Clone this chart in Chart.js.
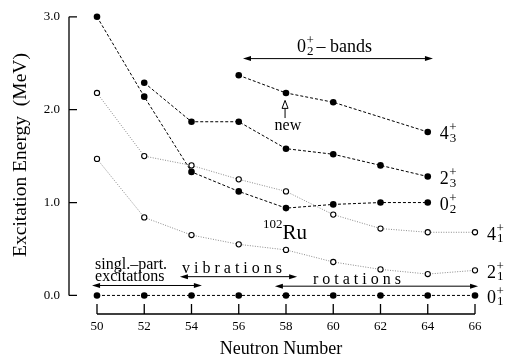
<!DOCTYPE html>
<html>
<head>
<meta charset="utf-8">
<script src="https://cdn.jsdelivr.net/npm/chart.js@4.4.1/dist/chart.umd.min.js"></script>
<style>
  html, body { margin: 0; padding: 0; background: #fff; }
</style>
</head>
<body>
<canvas id="myChart" width="506" height="358"></canvas>
<script>
// neutron numbers and level energies (MeV)
const neutrons = [50, 52, 54, 56, 58, 60, 62, 64, 66];
const energyTicks = [0, 1, 2, 3];

const e01 = [0, 0, 0, 0, 0, 0, 0, 0, 0];
const e21 = [1.47, 0.84, 0.65, 0.55, 0.49, 0.36, 0.28, 0.23, 0.27];
const e41 = [2.18, 1.50, 1.40, 1.25, 1.12, 0.87, 0.72, 0.68, 0.68];
const e02 = [3.00, 2.14, 1.33, 1.12, 0.94, 0.98, 1.00, 1.00, null];
const e23 = [null, 2.29, 1.87, 1.87, 1.58, 1.52, 1.40, 1.28, null];
const e43 = [null, null, null, 2.37, 2.18, 2.08, null, 1.76, null];

const serif = "'Liberation Serif', serif";

function points(arr) {
  const out = [];
  arr.forEach(function (v, i) {
    if (v !== null) out.push({ x: neutrons[i], y: v });
  });
  return out;
}

function filledSet(arr) {
  return {
    data: points(arr),
    borderColor: "#000",
    borderWidth: 1,
    borderDash: [3, 2],
    pointRadius: 3.3,
    pointBorderWidth: 0,
    pointBackgroundColor: "#000",
    pointBorderColor: "#000",
    tension: 0,
    clip: false
  };
}

function openSet(arr) {
  return {
    data: points(arr),
    borderColor: "#8a8a8a",
    borderWidth: 1,
    borderDash: [1, 1.5],
    pointRadius: 2.6,
    pointBorderWidth: 1.1,
    pointBackgroundColor: "#fff",
    pointBorderColor: "#000",
    tension: 0,
    clip: false
  };
}

// labels at the right end of each level line: [dataset index, main, sub]
const levelLabels = [
  [0, "0", "1"], [1, "2", "3"], [2, "0", "2"],
  [3, "4", "3"], [4, "2", "1"], [5, "4", "1"]
];

function arrowHead(ctx, x, y, dir) {
  ctx.beginPath();
  ctx.moveTo(x, y);
  ctx.lineTo(x - dir * 8, y - 2.5);
  ctx.lineTo(x - dir * 8, y + 2.5);
  ctx.closePath();
  ctx.fill();
}

function doubleArrow(ctx, x1, x2, y) {
  ctx.beginPath();
  ctx.moveTo(x1 + 4, y);
  ctx.lineTo(x2 - 4, y);
  ctx.stroke();
  arrowHead(ctx, x1, y, -1);
  arrowHead(ctx, x2, y, 1);
}

function levelText(ctx, x, y, main, sub) {
  ctx.textAlign = "left";
  ctx.textBaseline = "alphabetic";
  ctx.font = "18px " + serif;
  ctx.fillText(main, x, y + 7.5);
  const w = ctx.measureText(main).width;
  ctx.font = "13px " + serif;
  ctx.fillText("+", x + w + 0.5, y - 0.5);
  ctx.fillText(sub, x + w + 1, y + 10);
}

const decorations = {
  id: "decorations",
  beforeDatasetsDraw(chart) {
    const ctx = chart.ctx;
    const xs = chart.scales.x, ys = chart.scales.y;
    const X = v => xs.getPixelForValue(v), Y = v => ys.getPixelForValue(v);
    const left = chart.chartArea.left, bottom = chart.chartArea.bottom;
    ctx.save();
    ctx.strokeStyle = "#000";
    ctx.lineWidth = 1.3;
    ctx.beginPath();
    ctx.moveTo(left, Y(3));
    ctx.lineTo(left, Y(0));
    energyTicks.forEach(function (v) {
      ctx.moveTo(left, Y(v));
      ctx.lineTo(left + 8, Y(v));
    });
    ctx.moveTo(X(50), bottom);
    ctx.lineTo(X(66), bottom);
    neutrons.forEach(function (n) {
      ctx.moveTo(X(n), bottom);
      ctx.lineTo(X(n), bottom - 10);
    });
    ctx.stroke();
    ctx.restore();
  },
  afterDraw(chart) {
    const ctx = chart.ctx;
    const xs = chart.scales.x, ys = chart.scales.y;
    const X = v => xs.getPixelForValue(v), Y = v => ys.getPixelForValue(v);
    ctx.save();
    ctx.fillStyle = "#000";
    ctx.strokeStyle = "#000";
    ctx.lineWidth = 1;

    // axis titles
    ctx.font = "18px " + serif;
    ctx.textAlign = "center";
    ctx.textBaseline = "middle";
    ctx.fillText("Neutron Number", 281, 349);
    ctx.save();
    ctx.translate(21, 155);
    ctx.rotate(-Math.PI / 2);
    ctx.font = "19.5px " + serif;
    ctx.fillText("Excitation Energy  (MeV)", 0, 0);
    ctx.restore();

    // level labels at the end of each line
    levelLabels.forEach(function (l) {
      const pts = chart.getDatasetMeta(l[0]).data;
      const p = pts[pts.length - 1];
      levelText(ctx, p.x + 12, p.y, l[1], l[2]);
    });

    // 0+2 bands
    doubleArrow(ctx, X(56.18), X(64.22), Y(2.55));
    levelText(ctx, X(58.47), Y(2.618) - 7.5, "0", "2");
    ctx.font = "18px " + serif;
    ctx.textAlign = "left";
    ctx.textBaseline = "alphabetic";
    ctx.fillText("\u2013 bands", X(58.47) + 19.5, Y(2.618));

    // "new" marker
    const nx = X(57.96), ty = Y(2.10);
    ctx.beginPath();
    ctx.moveTo(nx, ty);
    ctx.lineTo(nx - 3, ty + 8);
    ctx.lineTo(nx + 3, ty + 8);
    ctx.closePath();
    ctx.stroke();
    ctx.beginPath();
    ctx.moveTo(nx, ty + 8);
    ctx.lineTo(nx, Y(1.91));
    ctx.stroke();
    ctx.font = "16px " + serif;
    ctx.textAlign = "center";
    ctx.fillText("new", X(58.08), Y(1.78));

    // 102Ru
    ctx.textAlign = "left";
    ctx.font = "13px " + serif;
    ctx.fillText("102", X(57.03), Y(0.605) - 11);
    const w102 = ctx.measureText("102").width;
    ctx.font = "21px " + serif;
    ctx.fillText("Ru", X(57.03) + w102, Y(0.605));

    // regime annotations
    ctx.font = "16px " + serif;
    ctx.fillText("singl.\u2013part.", X(49.92), Y(0.287));
    ctx.fillText("excitations", X(49.92), Y(0.16));
    doubleArrow(ctx, X(49.79), X(54.44), Y(0.107));
    ctx.fillText("v i b r a t i o n s", X(53.6), Y(0.245));
    doubleArrow(ctx, X(53.51), X(58.47), Y(0.202));
    ctx.fillText("r o t a t i o n s", X(59.14), Y(0.128));
    doubleArrow(ctx, X(57.53), X(66.13), Y(0.0996));
    ctx.restore();
  }
};

function drawChart() {
  const canvas = document.getElementById("myChart");
  const ctx = canvas.getContext("2d");

  new Chart(ctx, {
    type: "line",
    data: {
      datasets: [
        filledSet(e01),
        filledSet(e23),
        filledSet(e02),
        filledSet(e43),
        openSet(e21),
        openSet(e41)
      ]
    },
    options: {
      responsive: false,
      animation: false,
      layout: { padding: { top: 12, right: 31, left: 0, bottom: 0 } },
      plugins: {
        legend: { display: false },
        tooltip: { enabled: false }
      },
      scales: {
        x: {
          type: "linear",
          min: 48.815,
          max: 66,
          afterBuildTicks: s => { s.ticks = neutrons.map(v => ({ value: v })); },
          afterFit: s => { s.height = 44; },
          grid: { display: false, drawTicks: false },
          border: { display: false },
          ticks: {
            autoSkip: false,
            maxRotation: 0,
            padding: 5,
            color: "#000",
            font: { family: serif, size: 13 },
            callback: v => String(v)
          }
        },
        y: {
          min: -0.2,
          max: 3.0,
          afterBuildTicks: s => { s.ticks = energyTicks.map(v => ({ value: v })); },
          afterFit: s => { s.width = 69; },
          grid: { display: false, drawTicks: false },
          border: { display: false },
          ticks: {
            autoSkip: false,
            padding: 9,
            color: "#000",
            font: { family: serif, size: 13 },
            callback: v => v.toFixed(1)
          }
        }
      }
    },
    plugins: [decorations]
  });
}

// make sure the serif face is ready before the single (non-animated) draw
Promise.all([
  document.fonts.load("13px 'Liberation Serif'"),
  document.fonts.load("18px 'Liberation Serif'")
]).then(drawChart, drawChart);
</script>
</body>
</html>
